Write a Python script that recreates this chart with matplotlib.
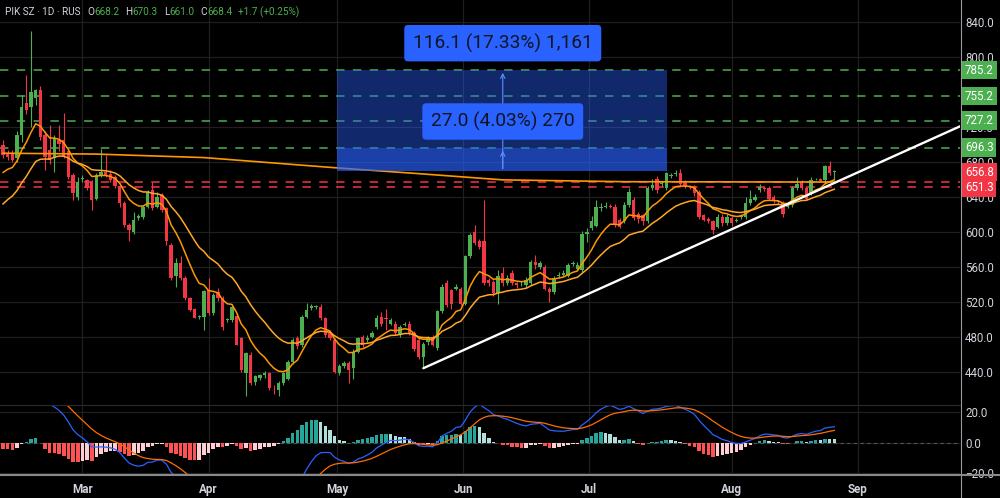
import matplotlib.pyplot as plt
from matplotlib.lines import Line2D
from matplotlib.patches import Rectangle
import numpy as np

plt.rcParams['font.family'] = ['Roboto', 'DejaVu Sans']

# Bougies journalières, de mi-février à fin août
opens = [699, 690, 690, 684, 711, 748, 743, 753, 762, 711, 694, 684, 705, 705, 692, 665, 640, 660, 659, 657,
         638, 664, 668, 666, 663, 652, 633, 608, 600, 616, 617, 629, 648, 629, 642, 627, 585, 549, 564, 547,
         524, 512, 503, 503, 534, 507, 531, 524, 499, 499, 504, 478, 438, 459, 428, 433, 436, 438, 423, 419,
         427, 432, 451, 478, 471, 503, 513, 514, 514, 501, 484, 476, 438, 446, 450, 444, 463, 480, 476, 480,
         491, 503, 501, 495, 495, 482, 494, 495, 484, 476, 457, 474, 480, 467, 509, 541, 533, 535, 535, 518,
         572, 600, 589, 589, 545, 543, 530, 553, 541, 553, 541, 541, 539, 541, 566, 560, 560, 535, 531, 549,
         551, 550, 563, 558, 556, 598, 604, 607, 627, 629, 630, 629, 614, 612, 631, 637, 621, 619, 612, 650,
         661, 655, 650, 664, 666, 667, 657, 652, 652, 646, 619, 615, 612, 606, 617, 610, 616, 612, 617, 617,
         633, 637, 648, 650, 650, 640, 635, 633, 629, 631, 650, 657, 650, 644, 660, 660, 659, 675, 668.2]
highs = [705, 694, 694, 715, 757, 779, 830, 764, 767, 715, 722, 711, 722, 736, 694, 667, 663, 665, 660, 659,
         667, 695, 688, 671, 665, 654, 635, 610, 623, 621, 631, 648, 657, 646, 644, 629, 587, 570, 572, 549,
         526, 513, 505, 534, 547, 530, 536, 527, 502, 518, 507, 480, 462, 462, 436, 437, 441, 440, 425, 429,
         440, 453, 478, 481, 505, 519, 518, 516, 517, 503, 486, 478, 449, 452, 452, 466, 480, 482, 482, 486,
         505, 508, 512, 502, 498, 494, 497, 498, 486, 478, 474, 481, 482, 511, 540, 545, 535, 540, 537, 574,
         599, 608, 592, 637, 547, 545, 556, 560, 551, 556, 543, 544, 548, 568, 574, 567, 562, 537, 549, 554,
         556, 564, 567, 566, 601, 604, 618, 636, 633, 634, 632, 632, 616, 634, 650, 640, 623, 621, 652, 660,
         664, 658, 669, 667, 671, 672, 659, 654, 654, 648, 621, 617, 614, 620, 620, 620, 618, 616, 621, 640,
         648, 643, 655, 653, 652, 642, 637, 635, 634, 652, 663, 659, 652, 663, 662, 662, 677, 681, 670.3]
lows = [684, 682, 680, 680, 703, 735, 720, 745, 705, 671, 678, 669, 692, 684, 661, 636, 636, 657, 648, 625,
        636, 663, 663, 657, 650, 629, 606, 589, 598, 614, 615, 627, 625, 627, 623, 585, 545, 537, 545, 522,
        509, 501, 500, 488, 505, 505, 521, 488, 497, 497, 470, 440, 412, 425, 425, 430, 433, 419, 415, 412,
        425, 430, 449, 466, 468, 501, 511, 512, 499, 480, 476, 438, 436, 444, 427, 432, 461, 468, 474, 478,
        489, 492, 488, 493, 482, 480, 492, 482, 464, 455, 444, 471, 469, 465, 507, 514, 512, 533, 516, 516,
        570, 585, 580, 539, 538, 527, 517, 538, 539, 539, 536, 538, 536, 539, 558, 557, 533, 520, 529, 547,
        549, 548, 561, 556, 554, 588, 602, 605, 624, 627, 627, 606, 604, 610, 629, 614, 610, 608, 610, 648,
        645, 653, 648, 662, 664, 653, 650, 649, 641, 615, 612, 610, 597, 604, 607, 608, 607, 611, 615, 615,
        631, 635, 646, 647, 636, 633, 632, 617, 627, 629, 648, 648, 636, 642, 659, 657, 657, 665, 661.0]
closes = [688, 686, 682, 711, 743, 739, 760, 762, 709, 686, 682, 707, 700, 686, 663, 644, 657, 662, 650, 636,
          665, 668, 664, 659, 652, 633, 608, 602, 614, 618, 629, 646, 627, 640, 625, 589, 547, 564, 547, 524,
          511, 502, 503, 532, 507, 528, 524, 491, 499, 514, 471, 442, 461, 427, 435, 436, 438, 421, 422, 427,
          438, 451, 476, 469, 503, 511, 515, 514, 501, 482, 478, 440, 446, 450, 442, 463, 478, 470, 478, 484,
          501, 495, 500, 499, 484, 491, 495, 484, 466, 457, 472, 478, 471, 509, 537, 516, 518, 537, 518, 572,
          596, 587, 583, 541, 541, 530, 549, 541, 547, 541, 539, 541, 545, 566, 562, 564, 535, 531, 547, 551,
          553, 562, 564, 562, 598, 600, 612, 629, 629, 630, 629, 608, 606, 631, 646, 616, 615, 612, 650, 654,
          648, 656, 667, 665, 667, 655, 652, 651, 644, 617, 614, 612, 602, 617, 610, 617, 610, 614, 619, 633,
          638, 640, 651, 649, 638, 635, 634, 621, 632, 650, 655, 650, 638, 659, 661, 658, 675, 667, 668.4]

# Mois (position en barres)
month_labels = ['Mar', 'Apr', 'May', 'Jun', 'Jul', 'Aug', 'Sep']
month_pos = [17, 44, 71.5, 98.5, 125.5, 156, 183]

# Moyenne longue (points lus)
ma_long_pos = [0, 20, 43, 72, 88, 107, 133, 178]
ma_long_val = [690, 689, 685, 673, 667, 659.5, 657.4, 657]

# Niveaux horizontaux
green_levels = [785.2, 755.2, 727.2, 696.3]
red_levels = [656.8, 651.3]

# Graduations de prix visibles (760 est caché sous l'étiquette 755.2)
price_ticks = [440, 480, 520, 560, 600, 640, 680, 720, 800, 840]

# Outil de mesure
entry_price = 669.1
range_moves = [116.1, 27.0]
range_labels = ['116.1 (17.33%) 1,161', '27.0 (4.03%) 270']

# Ligne de tendance
trend_pos = [90, 205]
trend_val = [444, 721]

# Valeurs de départ des moyennes (lues au bord gauche)
ema_fast_seed, ema_slow_seed = 668, 632
macd_seeds = (672, 640, 36)


def ema(values, period, seed):
    a = 2 / (period + 1)
    out = [seed]
    for v in values[1:]:
        out.append(out[-1] + a * (v - out[-1]))
    return np.array(out)


o = np.array(opens, float)
h = np.array(highs, float)
l = np.array(lows, float)
c = np.array(closes, float)
idx = np.arange(len(c))

UP, DOWN = '#4caf50', '#f23645'
GRID = '#1f1f1f'
TXT = '#d1d4dc'

fig = plt.figure(figsize=(10, 4.98), dpi=100, facecolor='black')
ax = fig.add_axes([0, 1 - 405 / 498, 0.96, 405 / 498])
ax2 = fig.add_axes([0, 1 - 475 / 498, 0.96, 70 / 498], sharex=ax)

for a in (ax, ax2):
    a.set_facecolor('black')
    for s in a.spines.values():
        s.set_visible(False)
    a.set_axisbelow(True)
    a.grid(True, color=GRID, lw=0.9)
    a.set_xticks(month_pos)
    a.yaxis.tick_right()
    a.tick_params(length=0, labelsize=8.3, labelcolor=TXT)

# Niveaux en pointillés
for lv in green_levels:
    ax.axhline(lv, color=UP, lw=1.1, ls=(0, (5.5, 5.5)), zorder=1.5)
for lv in red_levels:
    ax.axhline(lv, color=DOWN, lw=1.1, ls=(0, (5.5, 5.5)), zorder=1.5)

# Bougies
cols = np.where(c >= o, UP, DOWN)
ax.vlines(idx, l, h, colors=cols, lw=0.8, zorder=2)
ax.bar(idx, np.maximum(np.abs(c - o), 0.9), bottom=np.minimum(o, c), width=0.72, color=cols, zorder=2.2)

# Moyennes mobiles
ax.plot(ma_long_pos, ma_long_val, color='#ff9800', lw=1.2, zorder=3)
ax.plot(idx, ema(c, 9, ema_fast_seed), color='#ff9800', lw=1.1, zorder=3)
ax.plot(idx, ema(c, 21, ema_slow_seed), color='#ffa726', lw=1.1, zorder=3)

# Tendance
ax.plot(trend_pos, trend_val, color='white', lw=1.7, zorder=4, solid_capstyle='round')

# Outil de mesure
x0, x1 = 71.6, 142.2
for mv in range_moves:
    ax.add_patch(Rectangle((x0, entry_price), x1 - x0, mv, fc='#2962ff', ec='none', alpha=0.42, zorder=5))
for mv in range_moves:
    ax.annotate('', xy=(107, entry_price + mv), xytext=(107, entry_price),
                arrowprops=dict(arrowstyle='->', color='#5b8cff', lw=0.8, mutation_scale=8), zorder=6)
ax.text(107, 815.9, range_labels[0], ha='center', va='center', fontsize=13.8, color='#101522', zorder=7,
        bbox=dict(boxstyle='round,pad=0.45,rounding_size=0.2', fc='#2962ff', ec='none'))
ax.text(107, 726.3, range_labels[1], ha='center', va='center', fontsize=13.8, color='#101522', zorder=7,
        bbox=dict(boxstyle='round,pad=0.45,rounding_size=0.2', fc='#2962ff', ec='none'))

ax.set_xlim(-0.65, 204.9)
ax.set_ylim(401.9, 865.3)
ax.set_yticks(price_ticks)
ax.set_yticklabels([f'{v:.1f}' for v in price_ticks])
ax.tick_params(axis='y', pad=3.6)
ax.tick_params(axis='x', labelbottom=False)

# Étiquettes de prix
def tag(y, text, color, dy=0):
    ax.annotate(text, xy=(1, y), xycoords=('axes fraction', 'data'), xytext=(3.6, dy),
                textcoords='offset points', ha='left', va='center', color='white', fontsize=8.3,
                bbox=dict(boxstyle='square,pad=0.24', fc=color, ec='none'), annotation_clip=False, zorder=8)

for lv in green_levels:
    tag(lv, f'{lv:.1f}', UP)
tag(red_levels[0], f'{red_levels[0]:.1f}', DOWN, dy=7.2)
tag(red_levels[1], f'{red_levels[1]:.1f}', DOWN, dy=-0.4)

# MACD
e12 = ema(c, 12, macd_seeds[0])
e26 = ema(c, 26, macd_seeds[1])
macd = e12 - e26
signal = ema(macd, 9, macd_seeds[2])
hist = macd - signal
hcols = []
for i, v in enumerate(hist):
    prev = hist[i - 1] if i > 0 else v
    if v >= 0:
        hcols.append('#26a69a' if v >= prev else '#b2dfdb')
    else:
        hcols.append('#ff5252' if v <= prev else '#ffcdd2')
ax2.bar(idx, hist, width=0.75, color=hcols, zorder=2)
ax2.plot(idx, macd, color='#2962ff', lw=0.9, zorder=3)
ax2.plot(idx, signal, color='#ff6d00', lw=0.9, zorder=3)
ax2.axhline(0, color='#555555', lw=0.8, ls=(0, (3, 3)), zorder=1)
ax2.set_ylim(-21, 24.9)
ax2.set_yticks([-20, 0, 20])
ax2.set_yticklabels(['\u221220.0', '0.0', '20.0'])
ax2.tick_params(axis='y', pad=3.6)
ax2.set_xticklabels(month_labels, fontweight='bold', fontsize=8.4)
ax2.tick_params(axis='x', pad=6)

# Séparateurs
fig.add_artist(Line2D([0.9605, 0.9605], [0, 1], transform=fig.transFigure, color='#9a9a9a', lw=0.8))
fig.add_artist(Line2D([0, 1], [1 - 475 / 498] * 2, transform=fig.transFigure, color='#8a8a8a', lw=1.5))
fig.add_artist(Line2D([0, 0.96], [1 - 405 / 498] * 2, transform=fig.transFigure, color='#2a2a2a', lw=0.8))

# En-tête
renderer = fig.canvas.get_renderer()
segments = [('PIK SZ \u00b7 1D \u00b7 RUS', TXT, 7), ('O', TXT, 0), (f'{opens[-1]:.1f}', UP, 6),
            ('H', TXT, 0), (f'{highs[-1]:.1f}', UP, 6), ('L', TXT, 0), (f'{lows[-1]:.1f}', UP, 6),
            ('C', TXT, 0), (f'{closes[-1]:.1f}', UP, 6), ('+1.7 (+0.25%)', UP, 0)]
xpix = 5
for text, color, gap in segments:
    t = fig.text(xpix / 1000, 1 - 12 / 498, text, color=color, fontsize=7.2, ha='left', va='center')
    bb = t.get_window_extent(renderer)
    xpix = bb.x1 + gap

fig.savefig('out.png', dpi=100, facecolor='black')
